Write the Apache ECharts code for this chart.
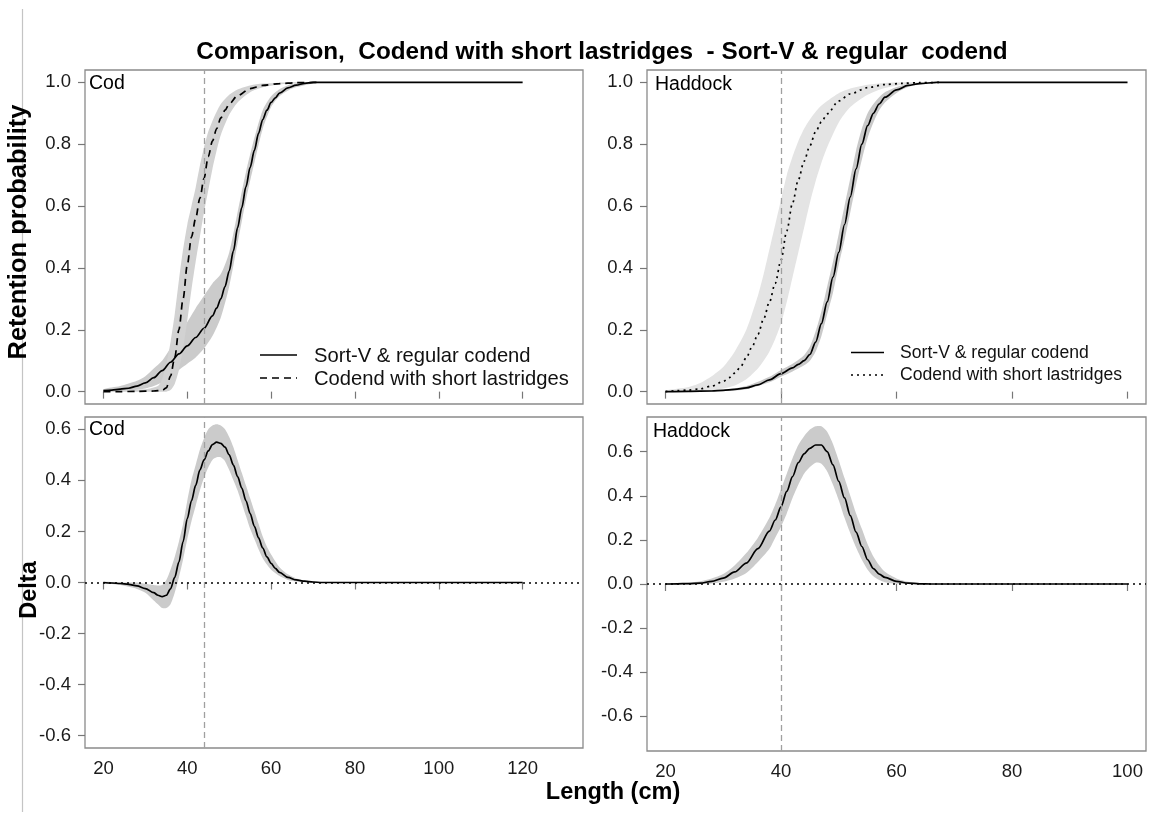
<!DOCTYPE html>
<html>
<head>
<meta charset="utf-8">
<script src="https://cdn.jsdelivr.net/npm/echarts@6/dist/echarts.min.js"></script>
<style>
html,body{margin:0;padding:0;background:#fff;}
#chart{width:1149px;height:819px;}
</style>
</head>
<body>
<div id="chart"></div>
<script>
// ---------------- DATA ----------------
const titleText = 'Comparison,  Codend with short lastridges  - Sort-V & regular  codend';
const seriesNames = ['Sort-V & regular codend', 'Codend with short lastridges'];
const speciesNames = ['Cod', 'Haddock'];
const codMLS = 44;
const haddockMLS = 40;

const codLengthTicks = [20, 40, 60, 80, 100, 120];
const haddockLengthTicks = [20, 40, 60, 80, 100];
const retentionTicks = [0, 0.2, 0.4, 0.6, 0.8, 1.0];
const deltaTicks = [-0.6, -0.4, -0.2, 0, 0.2, 0.4, 0.6];

// Cod: Sort-V & regular codend
const codSolidLen = [20,22,24,26,28,30,32,34,36,38,40,42,44,46,47,48,49,50,51,52,53,54,55,56,57,58,59,60,61,62,64,66,68,70,80,90,100,110,120];
const codSolidVal = [0.003,0.005,0.008,0.011,0.018,0.028,0.045,0.068,0.095,0.122,0.148,0.175,0.205,0.245,0.27,0.30,0.34,0.39,0.455,0.53,0.595,0.663,0.725,0.78,0.835,0.88,0.91,0.935,0.95,0.965,0.982,0.991,0.997,1,1,1,1,1,1];
const codSolidBandLen = [20,24,28,30,32,34,36,38,40,42,44,46,48,50,52,54,56,58,60,62,65,70];
const codSolidLo = [0,0.002,0.006,0.01,0.018,0.03,0.05,0.07,0.09,0.11,0.14,0.18,0.24,0.34,0.48,0.62,0.74,0.85,0.92,0.955,0.98,0.997];
const codSolidHi = [0.008,0.018,0.035,0.05,0.075,0.1,0.14,0.18,0.225,0.27,0.31,0.35,0.38,0.45,0.58,0.71,0.82,0.91,0.955,0.978,0.995,1];

// Cod: Codend with short lastridges
const codDashLen = [20,24,28,32,34,35,36,37,38,39,40,41,42,43,44,45,46,47,48,49,50,52,55,58,62,66,72];
const codDashVal = [0,0,0.001,0.002,0.004,0.012,0.05,0.11,0.2,0.3,0.41,0.5,0.56,0.625,0.69,0.76,0.81,0.85,0.885,0.91,0.93,0.957,0.98,0.99,0.996,0.999,1];
const codDashBandLen = [20,30,33,34,35,36,37,38,39,40,41,42,43,44,45,46,47,48,50,52,55,58,62,66,72];
const codDashLo = [0,0,0,0,0,0.005,0.025,0.07,0.14,0.23,0.33,0.42,0.5,0.58,0.65,0.72,0.78,0.83,0.895,0.935,0.968,0.984,0.993,0.998,1];
const codDashHi = [0.003,0.008,0.018,0.04,0.09,0.16,0.25,0.36,0.46,0.54,0.6,0.66,0.73,0.79,0.84,0.875,0.905,0.93,0.96,0.977,0.99,0.996,0.999,1,1];

// Haddock: Sort-V & regular codend
const hadSolidLen = [20,24,28,30,32,34,36,38,40,42,43,44,45,46,47,48,49,50,51,52,53,54,55,56,57,58,60,62,64,67,70,80,90,100];
const hadSolidVal = [0,0.001,0.002,0.004,0.007,0.012,0.022,0.038,0.058,0.077,0.088,0.1,0.12,0.16,0.22,0.29,0.37,0.45,0.54,0.63,0.72,0.8,0.86,0.9,0.93,0.952,0.976,0.99,0.996,1,1,1,1,1];
const hadSolidBandLen = [20,30,34,38,40,42,44,45,46,47,48,49,50,51,52,53,54,55,56,57,58,60,62,64,67];
const hadSolidLo = [0,0.002,0.008,0.03,0.048,0.065,0.085,0.1,0.13,0.18,0.25,0.32,0.41,0.49,0.58,0.67,0.75,0.82,0.87,0.91,0.935,0.966,0.985,0.993,1];
const hadSolidHi = [0.002,0.007,0.018,0.048,0.07,0.09,0.118,0.145,0.195,0.26,0.34,0.42,0.51,0.6,0.69,0.78,0.85,0.9,0.93,0.952,0.968,0.985,0.995,0.999,1];

// Haddock: Codend with short lastridges
const hadDotLen = [20,22,24,26,28,30,31,32,33,34,35,36,37,38,39,40,41,42,43,44,45,46,47,48,50,52,55,58,61,64,68];
const hadDotVal = [0,0.003,0.005,0.009,0.018,0.033,0.045,0.06,0.08,0.11,0.145,0.185,0.235,0.29,0.35,0.425,0.52,0.61,0.685,0.745,0.795,0.84,0.872,0.898,0.94,0.963,0.983,0.993,0.997,0.999,1];
const hadDotBandLen = [20,24,26,28,30,32,34,36,37,38,39,40,41,42,43,44,45,46,47,48,50,52,55,58,62,66,68];
const hadDotLo = [0,0.001,0.002,0.005,0.01,0.02,0.04,0.075,0.1,0.13,0.17,0.22,0.29,0.37,0.45,0.53,0.61,0.68,0.74,0.79,0.87,0.92,0.96,0.982,0.994,0.999,1];
const hadDotHi = [0.004,0.015,0.028,0.05,0.08,0.13,0.2,0.31,0.38,0.46,0.54,0.62,0.7,0.76,0.81,0.85,0.88,0.905,0.925,0.94,0.965,0.98,0.992,0.998,1,1,1];

// Cod: Delta
const codDeltaLen = [20,22,24,26,28,30,32,33,34,35,36,37,38,39,40,41,42,43,44,45,46,47,48,49,50,51,52,53,54,55,56,57,58,59,60,61,62,64,66,68,70,72,80,90,100,110,120];
const codDeltaVal = [0,-0.002,-0.004,-0.007,-0.013,-0.024,-0.04,-0.05,-0.055,-0.05,-0.025,0.02,0.08,0.16,0.25,0.32,0.38,0.44,0.48,0.515,0.54,0.55,0.545,0.53,0.5,0.46,0.415,0.37,0.32,0.27,0.22,0.175,0.135,0.1,0.075,0.055,0.04,0.02,0.01,0.005,0.002,0,0,0,0,0,0];
const codDeltaBandLen = [20,24,28,30,32,33,34,35,36,37,38,39,40,41,42,43,44,45,46,47,48,49,50,51,52,53,54,55,56,57,58,59,60,62,64,66,68,72];
const codDeltaLo = [-0.003,-0.01,-0.025,-0.04,-0.07,-0.085,-0.1,-0.1,-0.085,-0.04,0.02,0.09,0.17,0.24,0.3,0.36,0.41,0.45,0.48,0.49,0.49,0.475,0.44,0.4,0.36,0.31,0.26,0.21,0.17,0.13,0.095,0.07,0.05,0.025,0.01,0.004,0.001,0];
const codDeltaHi = [0.003,0,0,-0.005,-0.01,-0.012,-0.01,0.01,0.05,0.1,0.16,0.23,0.32,0.4,0.46,0.52,0.565,0.6,0.615,0.62,0.615,0.6,0.57,0.53,0.48,0.43,0.38,0.33,0.28,0.23,0.18,0.14,0.11,0.06,0.032,0.016,0.008,0.002];

// Haddock: Delta
const hadDeltaLen = [20,22,24,26,28,30,32,34,36,38,39,40,41,42,43,44,45,46,47,48,49,50,51,52,53,54,55,56,57,58,60,62,64,66,70,80,90,100];
const hadDeltaVal = [0,0.001,0.002,0.004,0.012,0.027,0.055,0.095,0.16,0.24,0.29,0.35,0.42,0.487,0.55,0.59,0.615,0.63,0.63,0.6,0.54,0.465,0.39,0.31,0.235,0.17,0.11,0.07,0.045,0.03,0.012,0.004,0.001,0,0,0,0,0];
const hadDeltaBandLen = [20,24,26,28,30,32,34,36,38,39,40,41,42,43,44,45,46,47,48,49,50,51,52,53,54,55,56,57,58,60,62,64,66];
const hadDeltaLo = [-0.002,-0.002,-0.001,0.002,0.01,0.025,0.05,0.1,0.16,0.21,0.26,0.32,0.39,0.45,0.5,0.53,0.55,0.545,0.51,0.45,0.38,0.3,0.23,0.165,0.11,0.065,0.035,0.018,0.008,0.001,0,0,0];
const hadDeltaHi = [0.002,0.006,0.012,0.025,0.045,0.085,0.14,0.21,0.3,0.36,0.43,0.5,0.57,0.63,0.67,0.7,0.715,0.715,0.69,0.635,0.56,0.48,0.4,0.32,0.25,0.18,0.125,0.085,0.055,0.025,0.01,0.003,0];

// ---------------- CHART ----------------
const FONT = '"Liberation Sans", Arial, Helvetica, sans-serif';
const zip = (xs, ys) => xs.map((x, i) => [x, ys[i]]);

const grids = [
  {left: 85, top: 70, width: 498, height: 334},
  {left: 647, top: 70, width: 499, height: 334},
  {left: 85, top: 417, width: 498, height: 331},
  {left: 647, top: 417, width: 499, height: 334}
].map(g => Object.assign(g, {show: true, borderColor: '#8a8a8a', borderWidth: 1.3, backgroundColor: 'transparent', containLabel: false}));

function xAx(gi, min, max, ticks, showLabel) {
  return {
    type: 'value', gridIndex: gi, min: min, max: max,
    axisLine: {show: false},
    splitLine: {show: false},
    axisTick: {show: true, length: 7, customValues: ticks, lineStyle: {color: '#777', width: 1.2}},
    axisLabel: {show: showLabel, customValues: ticks, margin: 11, fontSize: 18.5, color: '#1a1a1a', fontFamily: FONT}
  };
}
function yAx(gi, min, max, ticks) {
  return {
    type: 'value', gridIndex: gi, min: min, max: max,
    axisLine: {show: false},
    splitLine: {show: false},
    axisTick: {show: true, length: 7, customValues: ticks, lineStyle: {color: '#777', width: 1.2}},
    axisLabel: {show: true, customValues: ticks, margin: 14, fontSize: 18.5, color: '#1a1a1a', fontFamily: FONT,
      formatter: v => (Math.abs(v) < 1e-9 ? 0 : v).toFixed(1)}
  };
}

function band(gi, xs, lo, hi, color) {
  return {
    type: 'custom', xAxisIndex: gi, yAxisIndex: gi, silent: true, z: 1,
    data: [[xs[0], lo[0]]],
    renderItem: function (params, api) {
      const pts = [];
      for (let i = 0; i < xs.length; i++) pts.push(api.coord([xs[i], hi[i]]));
      for (let i = xs.length - 1; i >= 0; i--) pts.push(api.coord([xs[i], lo[i]]));
      return {type: 'polygon', shape: {points: pts, smooth: 0.25}, style: {fill: color, stroke: null}};
    }
  };
}

function curve(gi, xs, ys, dash, extra) {
  const s = {
    type: 'line', xAxisIndex: gi, yAxisIndex: gi, silent: true, z: 3,
    data: zip(xs, ys), showSymbol: false, symbol: 'none',
    smooth: 0.3, smoothMonotone: 'x',
    lineStyle: {color: '#000', width: 1.7, type: dash}
  };
  return Object.assign(s, extra || {});
}

function vline(x) {
  return {silent: true, symbol: 'none', label: {show: false}, animation: false,
    lineStyle: {color: '#a0a0a0', width: 1.3, type: [6, 4]}, data: [{xAxis: x}]};
}

const series = [
  // Top-left: Cod retention
  band(0, codSolidBandLen, codSolidLo, codSolidHi, '#cbcbcb'),
  band(0, codDashBandLen, codDashLo, codDashHi, '#d2d2d2'),
  curve(0, codSolidLen, codSolidVal, 'solid', {markLine: vline(codMLS)}),
  curve(0, codDashLen, codDashVal, [7, 5]),
  // Top-right: Haddock retention
  band(1, hadDotBandLen, hadDotLo, hadDotHi, '#e4e4e4'),
  band(1, hadSolidBandLen, hadSolidLo, hadSolidHi, '#c9c9c9'),
  curve(1, hadSolidLen, hadSolidVal, 'solid', {markLine: vline(haddockMLS)}),
  curve(1, hadDotLen, hadDotVal, [2, 4]),
  // Bottom-left: Cod delta
  band(2, codDeltaBandLen, codDeltaLo, codDeltaHi, '#cbcbcb'),
  curve(2, codDeltaLen, codDeltaVal, 'solid', {markLine: vline(codMLS)}),
  // Bottom-right: Haddock delta
  band(3, hadDeltaBandLen, hadDeltaLo, hadDeltaHi, '#cbcbcb'),
  curve(3, hadDeltaLen, hadDeltaVal, 'solid', {markLine: vline(haddockMLS)})
];
// zero reference lines (dotted) in delta panels
[2, 3].forEach(gi => series.push({type: 'line', xAxisIndex: gi, yAxisIndex: gi, data: [], silent: true, z: 2,
  markLine: {silent: true, symbol: 'none', label: {show: false}, animation: false,
    lineStyle: {color: '#000', width: 1.5, type: [2, 4]}, data: [{yAxis: 0}]}}));

function txt(x, y, text, size, opts) {
  return Object.assign({type: 'text', x: x, y: y, silent: true,
    style: Object.assign({text: text, fontSize: size, fontFamily: FONT, fill: '#000',
      textAlign: 'left', textVerticalAlign: 'middle'}, (opts && opts.style) || {})},
    opts && opts.el || {});
}
function legendLine(x1, x2, y, dash) {
  return {type: 'line', silent: true, shape: {x1: x1, y1: y, x2: x2, y2: y},
    style: {stroke: '#000', lineWidth: 1.7, lineDash: dash}};
}

const graphic = [
  {type: 'line', silent: true, shape: {x1: 22.5, y1: 9, x2: 22.5, y2: 812}, style: {stroke: '#c4c4c4', lineWidth: 1.2}},
  txt(602, 52, titleText, 24.3, {style: {textAlign: 'center', fontWeight: 'bold'}}),
  txt(19, 232, 'Retention probability', 25.5, {style: {textAlign: 'center', fontWeight: 'bold'}, el: {rotation: Math.PI / 2}}),
  txt(30, 590, 'Delta', 23.5, {style: {textAlign: 'center', fontWeight: 'bold'}, el: {rotation: Math.PI / 2}}),
  txt(613, 793, 'Length (cm)', 23.5, {style: {textAlign: 'center', fontWeight: 'bold'}}),
  txt(89, 84, speciesNames[0], 19.5),
  txt(655, 85, speciesNames[1], 19.5),
  txt(89, 430, speciesNames[0], 19.5),
  txt(653, 432, speciesNames[1], 19.5),
  legendLine(260, 297, 355, null),
  legendLine(260, 297, 378, [7, 5]),
  txt(314, 356, seriesNames[0], 20.2, {style: {fill: '#111'}}),
  txt(314, 379, seriesNames[1], 20.2, {style: {fill: '#111'}}),
  legendLine(851, 884, 352.5, null),
  legendLine(851, 884, 375, [2, 4]),
  txt(900, 353, seriesNames[0], 17.6, {style: {fill: '#111'}}),
  txt(900, 375.5, seriesNames[1], 17.6, {style: {fill: '#111'}})
];

const option = {
  animation: false,
  backgroundColor: '#fff',
  grid: grids,
  xAxis: [
    xAx(0, 15.6, 134.4, codLengthTicks, false),
    xAx(1, 16.8, 103.2, haddockLengthTicks, false),
    xAx(2, 15.6, 134.4, codLengthTicks, true),
    xAx(3, 16.8, 103.2, haddockLengthTicks, true)
  ],
  yAxis: [
    yAx(0, -0.04, 1.04, retentionTicks),
    yAx(1, -0.04, 1.04, retentionTicks),
    yAx(2, -0.648, 0.648, deltaTicks),
    yAx(3, -0.757, 0.757, deltaTicks)
  ],
  series: series,
  graphic: graphic
};

const chart = echarts.init(document.getElementById('chart'), null, {renderer: 'canvas'});
chart.setOption(option);
</script>
</body>
</html>
